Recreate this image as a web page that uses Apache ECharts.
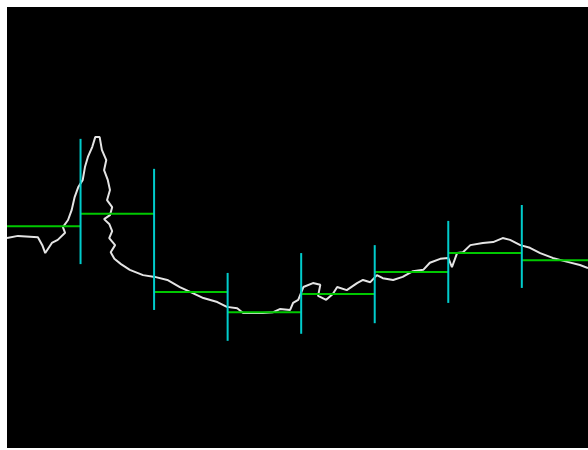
<!DOCTYPE html>
<html>
<head>
<meta charset="utf-8">
<script src="https://cdn.jsdelivr.net/npm/echarts@6/dist/echarts.min.js"></script>
<style>
  html, body { margin: 0; padding: 0; background: #ffffff; }
  #chart { width: 588px; height: 450px; }
</style>
</head>
<body>
<div id="chart"></div>
<script>
// Raw signal trace: [position, level]
const signalX = [0, 0.15, 0.42, 0.48, 0.52, 0.61, 0.69, 0.79, 0.76, 0.83, 0.88, 0.92, 0.97, 1.03, 1.06, 1.10, 1.16, 1.20,
  1.26, 1.29, 1.35, 1.32, 1.37, 1.40, 1.36, 1.43, 1.40, 1.32, 1.39, 1.43, 1.39, 1.47, 1.41, 1.46, 1.55,
  1.67, 1.85, 2.01, 2.18, 2.35, 2.49, 2.67, 2.86, 2.99, 3.13, 3.21, 3.48, 3.62, 3.71, 3.85, 3.89, 3.96,
  4.03, 4.16, 4.26, 4.23, 4.34, 4.43, 4.49, 4.62, 4.76, 4.84, 4.94,
  5.03, 5.11, 5.25, 5.38, 5.52, 5.66, 5.75, 5.89, 6.00, 6.05, 6.12, 6.20, 6.30, 6.47, 6.61, 6.74, 6.84, 6.98, 7.11,
  7.25, 7.42, 7.62, 7.79, 7.90];
const signalY = [47.6, 48.1, 47.8, 46.0, 44.2, 46.5, 47.2, 48.8, 50.1, 51.7, 54.0, 56.9, 59.2, 60.8, 63.7, 66.0, 68.3, 70.5,
  70.5, 67.6, 65.3, 63.0, 60.8, 58.5, 56.2, 54.6, 52.8, 51.9, 50.8, 49.2, 47.6, 46.0, 44.4, 42.9, 41.7,
  40.4, 39.2, 38.8, 38.1, 36.5, 35.4, 34.0, 33.1, 32.0, 31.7, 30.6, 30.6, 30.8, 31.5, 31.3, 32.9, 33.6,
  36.5, 37.4, 37.0, 34.5, 33.6, 34.9, 36.5, 35.8, 37.4, 38.1, 37.6,
  39.2, 38.5, 38.1, 38.8, 40.1, 40.4, 42.0, 42.9, 43.1, 41.0, 44.2, 44.4, 46.0, 46.5, 46.7, 47.6, 47.2, 46.0, 45.4,
  44.2, 43.1, 42.2, 41.5, 40.8];

// Window means (one per window of width 1)
const windowStart = [0, 1, 2, 3, 4, 5, 6, 7];
const windowMean = [50.3, 53.1, 35.4, 30.8, 34.9, 39.9, 44.2, 42.6];

// Range markers at window boundaries
const boundaryX = [1, 2, 3, 4, 5, 6, 7];
const boundaryLow = [41.7, 31.3, 24.3, 25.9, 28.3, 32.9, 36.3];
const boundaryHigh = [70.1, 63.3, 39.7, 44.2, 46.0, 51.5, 55.1];

const signalData = signalX.map((x, i) => [x, signalY[i]]);
const meanData = windowStart.map((s, i) => [s, s + 1, windowMean[i]]);
const rangeData = boundaryX.map((x, i) => [x, boundaryLow[i], boundaryHigh[i]]);

const chart = echarts.init(document.getElementById('chart'));
chart.setOption({
  animation: false,
  backgroundColor: 'transparent',
  grid: { left: 7, right: 0, top: 7, bottom: 2, show: true, backgroundColor: '#000000', borderWidth: 0 },
  xAxis: { type: 'value', min: 0, max: 7.9, show: false },
  yAxis: { type: 'value', min: 0, max: 100, show: false },
  series: [
    {
      type: 'line',
      data: signalData,
      showSymbol: false,
      lineStyle: { color: '#e4e4e4', width: 2 },
      z: 1
    },
    {
      type: 'custom',
      clip: true,
      data: meanData,
      z: 2,
      renderItem: function (params, api) {
        const a = api.coord([api.value(0), api.value(2)]);
        const b = api.coord([api.value(1), api.value(2)]);
        return { type: 'line', shape: { x1: a[0], y1: a[1], x2: b[0], y2: b[1] },
                 style: { stroke: '#00c800', lineWidth: 2 } };
      }
    },
    {
      type: 'custom',
      clip: true,
      data: rangeData,
      z: 3,
      renderItem: function (params, api) {
        const a = api.coord([api.value(0), api.value(1)]);
        const b = api.coord([api.value(0), api.value(2)]);
        return { type: 'line', shape: { x1: a[0], y1: a[1], x2: b[0], y2: b[1] },
                 style: { stroke: '#00cccc', lineWidth: 2 } };
      }
    }
  ]
});
</script>
</body>
</html>
